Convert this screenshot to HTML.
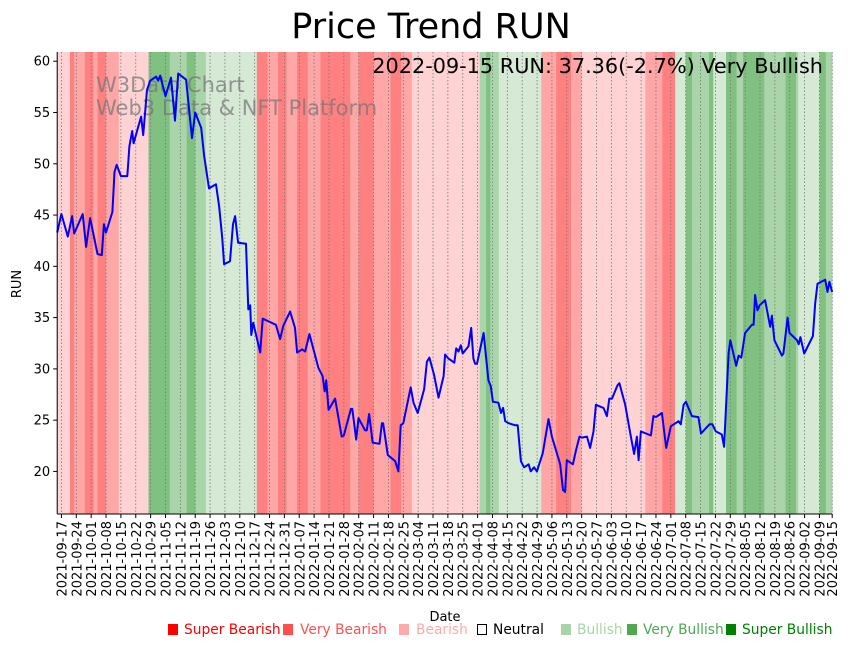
<!DOCTYPE html>
<html><head><meta charset="utf-8">
<style>
body{margin:0;background:#fff;}
svg text{font-family:"DejaVu Sans","Liberation Sans",sans-serif;}
</style></head>
<body>
<svg id="chart" width="851" height="646" viewBox="0 0 851 646" xmlns="http://www.w3.org/2000/svg">
<g id="bands"></g>
<g id="grid"></g>
<text x="96" y="92" font-size="21" fill="#777" fill-opacity="0.75">W3Dato Chart</text>
<text x="96" y="115" font-size="21" fill="#777" fill-opacity="0.75">Web3 Data &amp; NFT Platform</text>
<path id="line" fill="none" stroke="#0000ff" stroke-width="2" stroke-linejoin="round"/>
<g id="axes"></g>
<text x="431" y="38" font-size="35" text-anchor="middle">Price Trend RUN</text>
<text x="823" y="73" font-size="20.8" text-anchor="end">2022-09-15 RUN: 37.36(-2.7%) Very Bullish</text>
<text x="445" y="621" font-size="13" text-anchor="middle">Date</text>
<text x="21" y="284" font-size="13" text-anchor="middle" transform="rotate(-90 21 284)">RUN</text>
<g id="legend" font-size="13.8">
<g><rect x="168" y="624" width="10" height="11" fill="#ff0000"/><text x="184" y="634" fill="#ff0000">Super Bearish</text></g>
<g><rect x="283" y="624" width="10" height="11" fill="#ff5050"/><text x="300" y="634" fill="#ff5050">Very Bearish</text></g>
<g><rect x="399" y="624" width="10" height="11" fill="#ffaaaa"/><text x="416" y="634" fill="#ffaaaa">Bearish</text></g>
<g><rect x="477.5" y="624.5" width="9" height="10" fill="none" stroke="#000"/><text x="493" y="634" fill="#000">Neutral</text></g>
<g><rect x="561" y="624" width="10" height="11" fill="#a8d5a8"/><text x="577" y="634" fill="#a8d5a8">Bullish</text></g>
<g><rect x="627" y="624" width="10" height="11" fill="#50a850"/><text x="643" y="634" fill="#50a850">Very Bullish</text></g>
<g><rect x="726" y="624" width="10" height="11" fill="#008000"/><text x="742" y="634" fill="#008000">Super Bullish</text></g>
</g>
</svg>
<script>
// day offsets from 2021-09-15
const bandStarts = [0,6,8,13,17,19,23,29,43,53,61,65,70,94,99,104,108,113,118,124,138,142,149,157,162,167,199,202,204,208,228,235,242,247,277,285,291,296,299,307,309,315,320,323,333,343,348,349,359,362];
const bandLevels = [-1,-3,-2,-3,-2,-3,-2,-1,3,2,3,2,1,-3,-2,-3,-2,-3,-2,-3,-2,-3,-2,-3,-2,-1,2,3,2,1,-2,-3,-2,-1,-2,-3,1,3,2,3,1,3,2,3,2,3,2,1,3,2];
const priceDays = [0,2,5,7,8,12,13.6,15.5,19,21,22,23,26,27,28,30,33,34,35.3,36,39.5,40.5,42.3,43.8,46.6,47.5,48.5,51,53.6,55.5,57,60.7,63.5,65,67.8,69.2,71.5,74.8,76.3,77.7,78.6,81.4,82.8,83.8,85.2,88.9,90,90.9,91.4,92.3,95.6,96.8,103,105,106.5,109.7,112,113,115.4,116.8,118.8,123,125,126,126.7,127.8,130.9,134,135,138.3,139,140.8,141.9,145,145.8,146.9,148.6,151.8,152.9,153.5,155.7,159.2,160.7,161.8,163,166.5,167.8,169.8,172.8,174.1,175.3,177.5,179.6,182,182.7,184.3,187,187.9,189,190.1,191,193.7,195,196,196.8,197.7,200.8,203.1,204.2,205.2,207.8,209,210,211,212.6,215.7,216.9,218.4,219.9,222,223,224.6,225.9,228.7,231.4,233,236.9,238.2,239.2,240,242.9,244.4,246,247.1,249.5,251,252.6,253.7,257.3,258.9,260,261.3,263.9,264.8,267.5,269.9,271.7,273,273.8,274.9,279.6,280.8,282,284.8,286.8,289,292.6,293.7,295,296.1,298.9,302,303.2,307.2,308.6,310.2,313,314.1,316.2,317,319.8,320.9,322.2,324,327.2,328,328.7,329.8,330.8,333.4,335.8,336.6,337.8,341.3,342,344,344.9,348.4,349.2,350,351.8,355.9,357,358.1,361.7,362.8,363.7,365];
const priceValues = [43.3,45.1,42.9,44.9,43.2,45.1,41.9,44.7,41.2,41.1,44.1,43.3,45.3,49.2,49.9,48.8,48.8,51.7,53.2,52,54.6,52.8,57.2,58.1,58.5,58.1,58.6,56.6,58.4,54.2,58.8,58.2,52.5,55,53.5,50.8,47.6,48,45.8,42.8,40.2,40.5,44.1,44.9,42.3,42.2,35.8,36.2,33.3,34.5,31.6,34.9,34.3,32.9,34.2,35.6,34,31.6,31.9,31.7,33.4,30.1,29.3,27.8,28.9,26,27.1,23.4,23.5,26.1,26.1,23.1,25.2,24,24,25.6,22.8,22.7,24.7,24.7,21.6,21,20,24.5,24.7,28.2,26.7,25.7,28,30.7,31.1,29.4,27.2,29.3,31.4,31,30.6,32,31.7,32.3,31.5,32.2,34,31,30.5,30.5,33.5,28.9,28.3,26.8,26.7,25.7,26.2,24.9,24.7,24.5,24.5,21,20.4,20.7,20,20.4,20,21.8,25.1,23.4,20.7,18.2,18,21.1,20.7,22.1,23.4,23.3,23.4,22.3,23.9,26.5,26.2,25.4,27.1,27.1,28.4,28.6,26.5,23.7,21.7,23.4,21.1,23.9,23.5,25.4,25.3,25.7,22.3,24.4,24.9,24.6,26.5,26.8,25.4,25.3,23.7,24.6,24.6,23.9,23.6,22.4,31.5,32.8,30.3,31.3,31.1,33.5,34.3,34.3,37.2,35.7,36.2,36.7,34.1,35.2,32.8,31.3,31.5,35,33.5,32.8,32.4,33.1,31.5,33.2,36.4,38.3,38.7,37.5,38.5,37.5];
const yTicks = [20,25,30,35,40,45,50,55,60];
const xTickLabels = ["2021-09-17","2021-09-24","2021-10-01","2021-10-08","2021-10-15","2021-10-22","2021-10-29","2021-11-05","2021-11-12","2021-11-19","2021-11-26","2021-12-03","2021-12-10","2021-12-17","2021-12-24","2021-12-31","2022-01-07","2022-01-14","2022-01-21","2022-01-28","2022-02-04","2022-02-11","2022-02-18","2022-02-25","2022-03-04","2022-03-11","2022-03-18","2022-03-25","2022-04-01","2022-04-08","2022-04-15","2022-04-22","2022-04-29","2022-05-06","2022-05-13","2022-05-20","2022-05-27","2022-06-03","2022-06-10","2022-06-17","2022-06-24","2022-07-01","2022-07-08","2022-07-15","2022-07-22","2022-07-29","2022-08-05","2022-08-12","2022-08-19","2022-08-26","2022-09-02","2022-09-09","2022-09-15"];

const NS="http://www.w3.org/2000/svg";
const L=57.2,R=832.2,T=52,B=514, DMAX=365, YMIN=15.85, YMAX=60.9;
const xs=d=>L+(d/DMAX)*(R-L);
const ys=v=>B-(v-YMIN)/(YMAX-YMIN)*(B-T);
const base=Date.UTC(2021,8,15);
const dayOf=s=>{const p=s.split('-');return (Date.UTC(+p[0],+p[1]-1,+p[2])-base)/86400000;};
const colors={"-3":"#ff8080","-2":"#ffa6a6","-1":"#ffd3d3","1":"#d5e9d5","2":"#aad5aa","3":"#80c080"};
function mk(tag,attrs,parent){const e=document.createElementNS(NS,tag);for(const k in attrs)e.setAttribute(k,attrs[k]);parent.appendChild(e);return e;}

const bands=document.getElementById('bands');
bandStarts.forEach((s,i)=>{
  const e=i+1<bandStarts.length?bandStarts[i+1]:DMAX;
  const r=mk('rect',{x:xs(s),y:T,width:xs(e)-xs(s)+0.3,height:B-T,fill:colors[bandLevels[i]]},bands);
  
  
});

const grid=document.getElementById('grid');
const axes=document.getElementById('axes');
xTickLabels.forEach(lab=>{
  const x=xs(dayOf(lab));
  const g=mk('line',{x1:x,x2:x,y1:T,y2:B,stroke:'#777','stroke-width':0.8,'stroke-dasharray':'1.5,2'},grid);
  
  
  const t=mk('line',{x1:x,x2:x,y1:B,y2:B+4,stroke:'#000','stroke-width':1},axes);
  
  
  const tx=mk('text',{x:x+5,y:B+7,'font-size':13,'text-anchor':'end',transform:`rotate(-90 ${x+5} ${B+7})`},axes);
  tx.textContent=lab;
  
  
});
yTicks.forEach(v=>{
  const y=ys(v);
  const t=mk('line',{x1:L-4,x2:L,y1:y,y2:y,stroke:'#000','stroke-width':1},axes);
  
  
  const tx=mk('text',{x:L-7,y:y+4.5,'font-size':13,'text-anchor':'end'},axes);
  tx.textContent=v;
  
  
});
const sl=mk('line',{x1:L,x2:L,y1:T,y2:B,stroke:'#000','stroke-width':1},axes);


const sb=mk('line',{x1:L,x2:R,y1:B,y2:B,stroke:'#000','stroke-width':1},axes);



document.getElementById('line').setAttribute('d',priceDays.map((d,i)=>(i?'L':'M')+xs(d).toFixed(1)+','+ys(priceValues[i]).toFixed(1)).join(''));
</script>
</body></html>
